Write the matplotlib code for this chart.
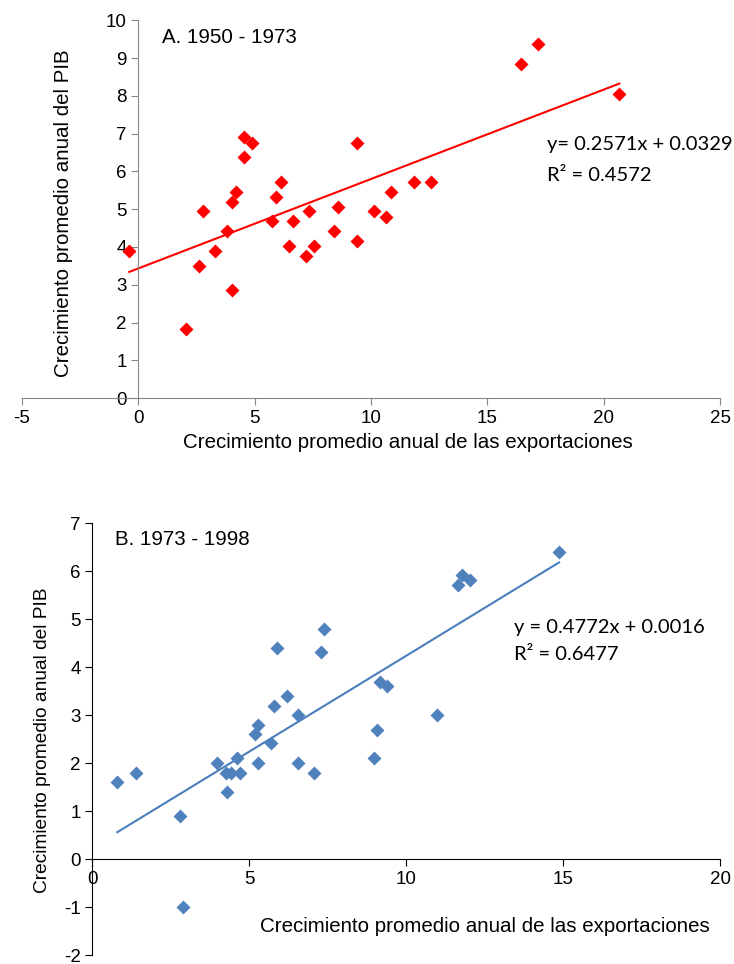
import numpy as np
import matplotlib.pyplot as plt

# Panel A: 1950 - 1973
exp_a = [-0.39, 2.06, 2.59, 2.78, 3.28, 3.81, 4.01, 4.18, 4.01, 4.53, 4.90, 4.53,
         5.74, 5.92, 6.15, 6.46, 6.63, 7.19, 7.35, 7.53, 8.42, 8.57, 9.41, 9.41,
         10.13, 10.64, 10.86, 11.86, 12.59, 16.45, 17.16, 20.67]
pib_a = [3.90, 1.82, 3.50, 4.94, 3.90, 4.43, 5.19, 5.45, 2.86, 6.90, 6.75, 6.38,
         4.68, 5.33, 5.71, 4.03, 4.68, 3.77, 4.94, 4.03, 4.43, 5.06, 6.75, 4.16,
         4.94, 4.80, 5.45, 5.72, 5.72, 8.85, 9.37, 8.06]

# Panel B: 1973 - 1998
exp_b = [0.79, 1.40, 2.78, 2.89, 3.97, 4.29, 4.26, 4.40, 4.60, 4.69, 5.18, 5.29,
         5.29, 5.70, 5.77, 5.88, 6.19, 6.56, 6.56, 7.07, 7.29, 7.38, 8.97, 9.06,
         9.16, 9.37, 10.98, 11.64, 11.78, 12.04, 14.87]
pib_b = [1.60, 1.80, 0.90, -1.00, 2.00, 1.40, 1.80, 1.80, 2.10, 1.80, 2.60, 2.80,
         2.00, 2.41, 3.20, 4.40, 3.40, 3.00, 2.00, 1.80, 4.31, 4.80, 2.10, 2.70,
         3.70, 3.60, 3.00, 5.71, 5.92, 5.82, 6.40]

xlabel = 'Crecimiento promedio anual de las exportaciones'
ylabel = 'Crecimiento promedio anual del PIB'

plt.rcParams['font.family'] = ['Liberation Sans', 'DejaVu Sans']
plt.rcParams['axes.unicode_minus'] = False

fig = plt.figure(figsize=(7.34, 9.64), dpi=100)


def trend(ax, x, y, color):
    m, b = np.polyfit(x, y, 1)
    xs = np.array([min(x), max(x)])
    ax.plot(xs, m * xs + b, color=color, lw=1.5, zorder=2)


# ---- top chart
ax1 = fig.add_axes([0.030, 0.587, 0.951, 0.392])
ax1.plot(exp_a, pib_a, 'D', color='#FF0000', ms=6.8, mec='none', zorder=3)
trend(ax1, exp_a, pib_a, '#FF0000')
ax1.set_xlim(-5, 25)
ax1.set_ylim(0, 10)
ax1.set_xticks(range(-5, 26, 5))
ax1.set_yticks(range(0, 11))
for s in ['top', 'right']:
    ax1.spines[s].set_visible(False)
ax1.spines['left'].set_position(('data', 0))
for s in ['left', 'bottom']:
    ax1.spines[s].set_color('#868686')
ax1.tick_params(colors='#868686', labelcolor='black', labelsize=13.5, length=5)
ax1.text(1.03, 9.39, 'A. 1950 - 1973', fontsize=14.8, va='baseline')
ax1.text(17.58, 6.56, 'y= 0.2571x + 0.0329', fontsize=14.5, family='Lato',
         va='baseline')
ax1.text(17.58, 5.74, 'R² = 0.4572', fontsize=14.5, family='Lato', va='baseline')
fig.text(408 / 734, 1 - 443 / 964, xlabel, fontsize=14.8, ha='center', va='center')
fig.text(64 / 734, 1 - 213 / 964, ylabel, fontsize=14.8, ha='center', va='center',
         rotation=90)

# ---- bottom chart
ax2 = fig.add_axes([0.126, 0.0093, 0.855, 0.448])
ax2.plot(exp_b, pib_b, 'D', color='#4F81BD', ms=7, mec='none', zorder=3)
trend(ax2, exp_b, pib_b, '#4A7EBB')
ax2.set_xlim(0, 20)
ax2.set_ylim(-2, 7)
ax2.set_xticks(range(0, 21, 5))
ax2.set_yticks(range(-2, 8))
for s in ['top', 'right']:
    ax2.spines[s].set_visible(False)
ax2.spines['bottom'].set_position(('data', 0))
ax2.tick_params(labelsize=13.5, length=5)
ax2.text(0.71, 6.54, 'B. 1973 - 1998', fontsize=14.8, va='baseline')
ax2.text(13.42, 4.71, 'y = 0.4772x + 0.0016', fontsize=14.5, family='Lato',
         va='baseline')
ax2.text(13.42, 4.15, 'R² = 0.6477', fontsize=14.5, family='Lato', va='baseline')
fig.text(485 / 734, 1 - 927 / 964, xlabel, fontsize=14.8, ha='center', va='center')
fig.text(43 / 734, 1 - 740 / 964, ylabel, fontsize=13.8, ha='center', va='center',
         rotation=90)

fig.savefig('out.png', dpi=100)
